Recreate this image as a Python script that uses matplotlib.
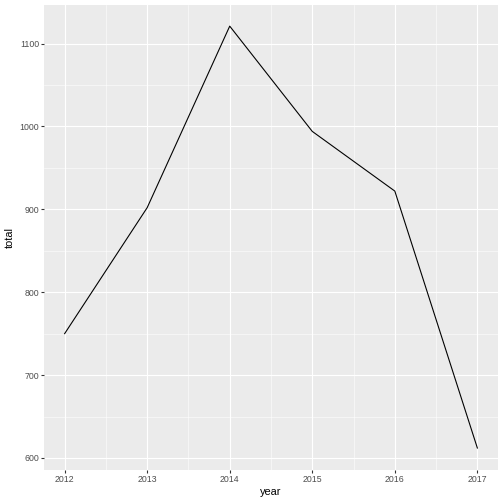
import matplotlib
matplotlib.use('Agg')
import matplotlib.pyplot as plt

plt.rcParams['font.family'] = ['Liberation Sans', 'DejaVu Sans']

year = [2012, 2013, 2014, 2015, 2016, 2017]
total = [750, 902, 1121, 994, 922, 612]

x_ticks = [2012, 2013, 2014, 2015, 2016, 2017]
y_ticks = [600, 700, 800, 900, 1000, 1100]

fig = plt.figure(figsize=(7, 7), dpi=72)
ax = fig.add_axes([44 / 504, 34 / 504, 454 / 504, 465 / 504])
ax.set_facecolor('#EBEBEB')

# minor grid at midpoints
for i in range(len(x_ticks) - 1):
    ax.axvline((x_ticks[i] + x_ticks[i + 1]) / 2, color='white', lw=0.55, zorder=0)
for i in range(len(y_ticks) - 1):
    ax.axhline((y_ticks[i] + y_ticks[i + 1]) / 2, color='white', lw=0.55, zorder=0)
ax.axhline(1150, color='white', lw=0.55, zorder=0)
ax.grid(True, color='white', lw=1.1, zorder=0)
ax.set_axisbelow(True)

ax.plot(year, total, color='black', lw=1.1, zorder=3)

ax.set_xlim(2011.75, 2017.25)
ax.set_ylim(585.5, 1146.5)
ax.set_xticks(x_ticks)
ax.set_yticks(y_ticks)
ax.tick_params(colors='#333333', labelcolor='#4D4D4D', labelsize=8.8, length=2.7, width=1.1, pad=2)
for s in ax.spines.values():
    s.set_visible(False)

ax.set_xlabel('year', fontsize=11, labelpad=3)
ax.set_ylabel('total', fontsize=11, labelpad=5)

fig.savefig('out.png', dpi=72, facecolor='white')
